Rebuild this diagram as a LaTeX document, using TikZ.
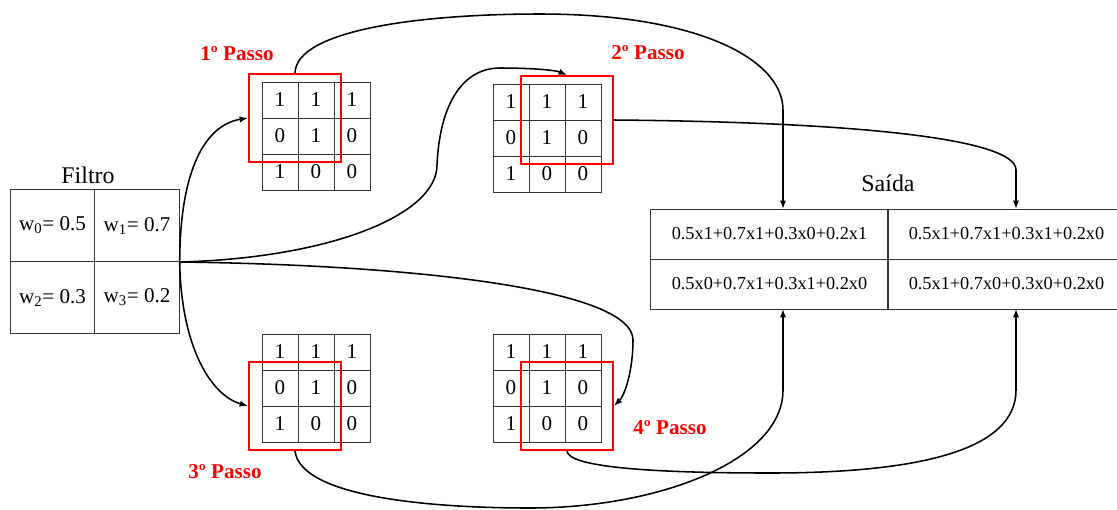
\documentclass[tikz,border=0pt]{standalone}
\usepackage{fontspec}
\setmainfont{Liberation Serif}
\usetikzlibrary{arrows.meta}
\definecolor{passored}{RGB}{255,0,0}
\tikzset{
  cell/.style={draw=black!80,line width=0.7pt,minimum width=0.9cm,minimum height=0.9cm,inner sep=0pt,font=\fontsize{15}{18}\selectfont},
  fcell/.style={draw=black!80,line width=0.7pt,minimum width=2.11cm,minimum height=1.8cm,inner sep=0pt,font=\fontsize{15}{18}\selectfont},
  ocell/.style={draw=black!80,line width=0.7pt,minimum width=5.925cm,minimum height=1.25cm,inner sep=0pt,font=\fontsize{13}{16}\selectfont},
  janela/.style={draw=passored,line width=1.3pt,minimum width=2.3cm,minimum height=2.2cm,inner sep=0pt},
  passo/.style={text=passored,font=\fontsize{15}{18}\selectfont\bfseries},
  titulo/.style={font=\fontsize{17}{20}\selectfont},
  seta/.style={line width=1.1pt,-{Latex[length=6pt,width=4.5pt]}}
}
\begin{document}
\begin{tikzpicture}[x=0.025cm,y=-0.025cm]
\useasboundingbox (0,0) rectangle (1117,509);
\clip (0,0) rectangle (1117,509);
% filtro
\node[titulo] (tfiltro) at (88,175) {Filtro};
\node[fcell] (f0) at (52.5,225.5) {w\textsubscript{0}= 0.5};
\node[fcell] (f1) at (137,225.5) {w\textsubscript{1}= 0.7};
\node[fcell] (f2) at (52.5,297.5) {w\textsubscript{2}= 0.3};
\node[fcell] (f3) at (137,297.5) {w\textsubscript{3}= 0.2};
\coordinate (fout) at (f1.south east);
% as quatro entradas 3x3
\foreach \g/\gx/\gy in {g1/262/82, g2/493/84, g3/262/334, g4/493/334}{
  \foreach \v [count=\i] in {1,1,1,0,1,0,1,0,0}{
    \pgfmathtruncatemacro{\col}{mod(\i-1,3)}
    \pgfmathtruncatemacro{\lin}{div(\i-1,3)}
    \node[cell] (\g-\i) at (\gx+18+36*\col,\gy+18+36*\lin) {\v};
  }
}
% janelas do filtro
\node[janela] (p1) at (295,118) {};
\node[janela] (p2) at (567,120) {};
\node[janela] (p3) at (295,406) {};
\node[janela] (p4) at (567,406) {};
\node[passo] (t1) at (237,54) {1º Passo};
\node[passo] (t2) at (648,53) {2º Passo};
\node[passo] (t3) at (225,472) {3º Passo};
\node[passo] (t4) at (670,428) {4º Passo};
% saida
\node[titulo] (tsaida) at (888,183) {Saída};
\node[ocell] (o1) at (769.5,234) {0.5x1+0.7x1+0.3x0+0.2x1};
\node[ocell] (o2) at (1006.5,234) {0.5x1+0.7x1+0.3x1+0.2x0};
\node[ocell] (o3) at (769.5,284) {0.5x0+0.7x1+0.3x1+0.2x0};
\node[ocell] (o4) at (1006.5,284) {0.5x1+0.7x0+0.3x0+0.2x0};
\coordinate (s1) at (783,209);
\coordinate (s2) at (1016,209);
\coordinate (s3) at (783,309);
\coordinate (s4) at (1016,309);
% filtro -> janelas
\draw[seta] (fout) .. controls (180,170) and (205,125) .. (p1.west);
\draw[seta] (fout) .. controls (330,258) and (437,215) .. (437,165)
  .. controls (440,100) and (465,68) .. (500,68)
  .. controls (530,68) and (555,70) .. (p2.north);
\draw[seta] (fout) .. controls (181,345) and (210,395) .. (p3.west);
\draw[seta] (fout) .. controls (420,265) and (633,290) .. (633,340)
  .. controls (633,370) and (625,395) .. (p4.east);
% janelas -> saida
\draw[seta] (p1.north) .. controls (296,30) and (420,14) .. (540,14)
  .. controls (700,14) and (783,60) .. (783,110) -- (s1);
\draw[seta] (p2.east) .. controls (850,122) and (1016,138) .. (1016,170) -- (s2);
\draw[seta] (p3.south) .. controls (300,495) and (420,508) .. (530,508)
  .. controls (660,508) and (783,460) .. (783,390) -- (s3);
\draw[seta] (p4.south) .. controls (568,468) and (660,473) .. (770,473)
  .. controls (920,473) and (1016,450) .. (1016,390) -- (s4);
\end{tikzpicture}
\end{document}
